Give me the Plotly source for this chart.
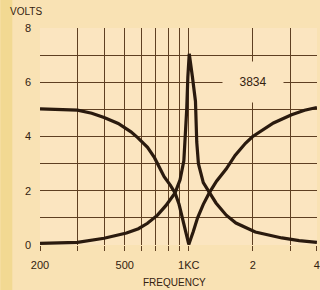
import math
import plotly.graph_objects as go

# Curve A: notch (band-reject) response
freq_notch = [200, 250, 300, 350, 400, 466, 535, 577, 640, 690, 713, 766, 820, 862, 900, 930, 965, 1000,
              1050, 1100, 1170, 1248, 1350, 1498, 1650, 1846, 1990, 2500, 3040, 3500, 4000]
volts_notch = [5.02, 5.0, 4.97, 4.86, 4.7, 4.48, 4.17, 3.95, 3.6, 3.22, 2.98, 2.52, 2.2, 1.92, 1.5, 1.07, 0.55, 0.02,
               0.5, 1.0, 1.5, 1.92, 2.35, 2.8, 3.3, 3.75, 3.99, 4.5, 4.8, 4.97, 5.07]

# Curve B: peak (band-pass) response
freq_peak = [200, 300, 400, 510, 580, 640, 713, 780, 862, 910, 948, 965, 978, 990, 1005,
             1040, 1075, 1090, 1110, 1170, 1248, 1342, 1500, 1666, 2054, 2738, 3300, 4000]
volts_peak = [0.06, 0.1, 0.25, 0.44, 0.6, 0.8, 1.1, 1.45, 1.92, 2.4, 3.1, 4.0, 5.0, 6.2, 7.05,
              6.2, 5.3, 3.8, 3.0, 2.3, 1.92, 1.55, 1.1, 0.81, 0.48, 0.26, 0.16, 0.1]

x_grid = [200, 300, 400, 500, 600, 700, 800, 900, 1000, 2000, 3000, 4000]
x_labels = ["200", "", "", "500", "", "", "", "", "1KC", "2", "", "4"]
y_grid = [0, 1, 2, 3, 4, 5, 6, 7, 8]
y_labels = ["0", "", "2", "", "4", "", "6", "", "8"]

curve_label = "3834"
curve_label_freq = 2000
curve_label_volts = 6

ink = "#2a1a0e"
grid = "#5e3f22"
txt = "#33210f"
font = "Liberation Sans"

fig = go.Figure()
fig.add_trace(go.Scatter(x=freq_notch, y=volts_notch, mode="lines",
                         line=dict(color=ink, width=3.2), hoverinfo="skip"))
fig.add_trace(go.Scatter(x=freq_peak, y=volts_peak, mode="lines",
                         line=dict(color=ink, width=3.2), hoverinfo="skip"))

fig.add_annotation(x=math.log10(curve_label_freq), y=curve_label_volts,
                   text=curve_label, showarrow=False, width=58, height=38,
                   bgcolor="#fbe5c0", font=dict(family=font, size=12, color=txt))

fig.add_annotation(xref="paper", yref="paper", x=-0.114, y=1.074, xanchor="left", yanchor="middle",
                   text="VOLTS", showarrow=False, font=dict(family=font, size=10, color=txt))
fig.add_annotation(xref="paper", yref="paper", x=0.486, y=-0.175, xanchor="center", yanchor="middle",
                   text="FREQUENCY", showarrow=False, font=dict(family=font, size=10, color=txt))

fig.add_shape(type="rect", xref="paper", yref="paper", x0=-0.143, x1=-0.1, y0=-0.3, y1=1.2,
              fillcolor="#f2d992", line=dict(width=0), layer="below")

fig.update_layout(
    width=320, height=290,
    margin=dict(l=40, r=0, t=28, b=45),
    paper_bgcolor="#f9e2b4", plot_bgcolor="#fbe5c0",
    showlegend=False,
    xaxis=dict(type="log", range=[2.30103, 3.6024], tickvals=x_grid, ticktext=x_labels,
               showgrid=True, gridcolor=grid, gridwidth=1.3, zeroline=False,
               ticks="outside", ticklen=5, tickcolor=grid, tickwidth=1.3,
               ticklabelstandoff=5, ticklabeloverflow="allow", showline=False,
               tickfont=dict(family=font, size=11, color=txt)),
    yaxis=dict(range=[0, 8], tickvals=y_grid, ticktext=y_labels,
               showgrid=True, gridcolor=grid, gridwidth=1.3, zeroline=False,
               ticks="", ticklabelstandoff=8, showline=False,
               tickfont=dict(family=font, size=11, color=txt)),
)

fig.write_html("out.html", config={"displayModeBar": False},
               post_script="document.body.style.margin='0';document.body.style.background='#f9e2b4';")
